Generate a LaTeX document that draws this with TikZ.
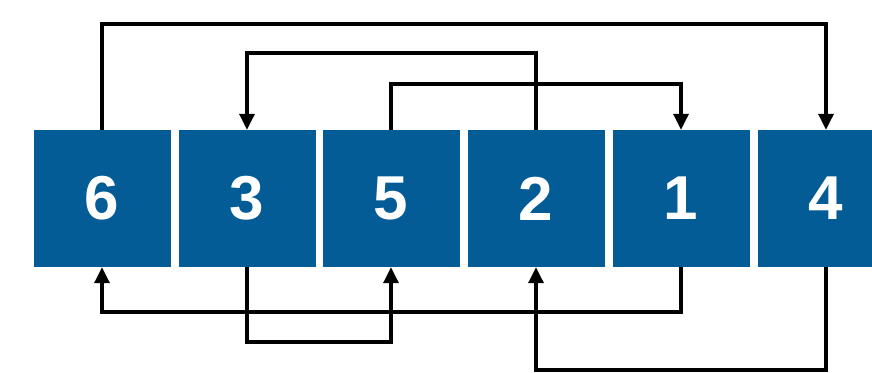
\documentclass[tikz,border=0pt]{standalone}
\usepackage{fontspec}
\setmainfont{Liberation Sans}
\usetikzlibrary{arrows.meta}
\definecolor{boxblue}{RGB}{4,92,150}
\begin{document}
\begin{tikzpicture}[x=1pt,y=-1pt,
  cell/.style={fill=boxblue, minimum width=137pt, minimum height=137pt, inner sep=0pt,
    text=white, font=\fontsize{62}{62}\selectfont\bfseries},
  link/.style={line width=3.3pt, -{Triangle[length=16pt,width=15pt]}}]
\useasboundingbox (0,0) rectangle (872,372);
\node[cell] (n6) at (102,198.5) {6};
\node[cell] (n3) at (247,198.5) {3};
\node[cell] (n5) at (391,198.5) {5};
\node[cell] (n2) at (536,198.5) {2};
\node[cell] (n1) at (681,198.5) {1};
\node[cell] (n4) at (826,198.5) {4};
\coordinate (y1) at (0,24);
\coordinate (y2) at (0,53);
\coordinate (y3) at (0,84);
\coordinate (y4) at (0,312);
\coordinate (y5) at (0,342);
\coordinate (y6) at (0,370);
\draw[link] (n6.north) -- (n6.north |- y1) -| (n4.north);
\draw[link] (n2.north) -- (n2.north |- y2) -| (n3.north);
\draw[link] (n5.north) -- (n5.north |- y3) -| (n1.north);
\draw[link] (n1.south) -- (n1.south |- y4) -| (n6.south);
\draw[link] (n3.south) -- (n3.south |- y5) -| (n5.south);
\draw[link] (n4.south) -- (n4.south |- y6) -| (n2.south);
\end{tikzpicture}
\end{document}
